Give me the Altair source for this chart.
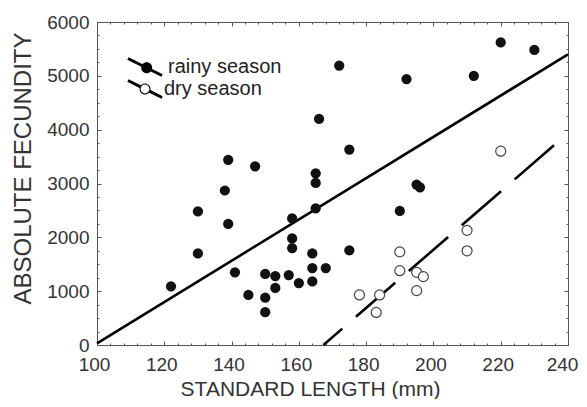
import altair as alt
import pandas as pd

# ---- data ----
rainy_x = [122, 130, 130, 138, 139, 139, 141, 145, 147, 150, 150, 150, 153, 153,
           157, 158, 158, 158, 160, 164, 164, 164, 165, 165, 165, 166, 168, 172,
           175, 175, 190, 192, 195, 196, 212, 220, 230]
rainy_y = [1090, 2480, 1700, 2870, 3440, 2250, 1350, 930, 3320, 1320, 880, 610, 1280, 1060,
           1300, 2350, 1980, 1800, 1150, 1700, 1430, 1180, 2540, 3010, 3190, 4200, 1430, 5190,
           3630, 1760, 2490, 4940, 2980, 2930, 5000, 5620, 5480]
dry_x = [178, 183, 184, 190, 190, 195, 195, 197, 210, 210, 220]
dry_y = [930, 605, 930, 1730, 1380, 1350, 1010, 1270, 2130, 1750, 3600]

rainy_fit_x = [100, 240]
rainy_fit_y = [30, 5400]
dry_fit_x = [167.3, 236.6]
dry_fit_y = [0, 3750]

x_major = [100, 120, 140, 160, 180, 200, 220, 240]
x_minor = list(range(100, 241, 4))
y_major = [0, 1000, 2000, 3000, 4000, 5000, 6000]
y_minor = list(range(0, 6001, 250))
seasons = ["rainy season", "dry season"]

# legend icons (custom symbol paths in the unit box)
rainy_icon = ("M-0.961,-0.579L1.039,0.421L0.961,0.579L-1.039,-0.421Z"
              "M0.424,0.05A0.324,0.324 0 1,1 -0.224,0.05A0.324,0.324 0 1,1 0.424,0.05Z")
dry_icon = ("M-0.961,-0.579L-0.220,-0.209L-0.298,-0.051L-1.039,-0.421Z"
            "M0.298,0.051L1.039,0.421L0.961,0.579L0.220,0.209Z"
            "M0.324,0A0.324,0.324 0 1,1 -0.324,0A0.324,0.324 0 1,1 0.324,0Z"
            "M0.26,0A0.26,0.26 0 1,0 -0.26,0A0.26,0.26 0 1,0 0.26,0Z")

FONT = "Liberation Sans"
TXT = "#333333"
FRAME = "#555555"

rainy = pd.DataFrame({"x": rainy_x, "y": rainy_y, "season": seasons[0]})
dry = pd.DataFrame({"x": dry_x, "y": dry_y, "season": seasons[1]})
rfit = pd.DataFrame({"x": rainy_fit_x, "y": rainy_fit_y})
dfit = pd.DataFrame({"x": dry_fit_x, "y": dry_fit_y})

xs = alt.Scale(domain=[100, 240], nice=False, zero=False)
ys = alt.Scale(domain=[0, 6000], nice=False)


def tick_axis(orient, values, size):
    return alt.Axis(orient=orient, values=values, tickSize=size, offset=-size,
                    domain=False, grid=False, labels=False, ticks=True,
                    tickColor=FRAME, tickWidth=1)


x_main = alt.Axis(orient="bottom", values=x_major, tickSize=4, offset=-4, domain=False,
                  grid=False, tickColor=FRAME, tickWidth=1,
                  labelFont=FONT, labelFontSize=19, labelColor=TXT, labelPadding=10,
                  labelFlush=False, labelOverlap=False, format="d",
                  labelOffset=alt.ExprRef("datum.value == 240 ? -6 : -3"),
                  title="STANDARD LENGTH (mm)", titleFont=FONT, titleFontSize=21,
                  titleFontWeight="normal", titleColor=TXT, titleX=213, titleY=54,
                  titleAlign="center", titleBaseline="alphabetic")
y_main = alt.Axis(orient="left", values=y_major, tickSize=4, offset=-4, domain=False,
                  grid=False, tickColor=FRAME, tickWidth=1,
                  labelFont=FONT, labelFontSize=19, labelColor=TXT, labelPadding=8,
                  labelOverlap=False, format="d",
                  title="ABSOLUTE FECUNDITY", titleFont=FONT, titleFontSize=24,
                  titleFontWeight="normal", titleColor=TXT, titleAngle=270,
                  titleX=-71, titleY=146, titleAlign="center", titleBaseline="alphabetic")

rain_line = alt.Chart(rfit).mark_line(color="black", strokeWidth=2.6).encode(
    x=alt.X("x:Q", scale=xs, axis=x_main),
    y=alt.Y("y:Q", scale=ys, axis=y_main),
)

dry_line = alt.Chart(dfit).mark_line(
    color="black", strokeWidth=2.6, strokeDash=[52, 18], strokeDashOffset=27
).encode(
    x=alt.X("x:Q", scale=xs, axis=tick_axis("top", x_major, 4), title=None),
    y=alt.Y("y:Q", scale=ys, axis=tick_axis("right", y_major, 4), title=None),
)

dry_pts = alt.Chart(dry).mark_point(
    shape="circle", filled=True, fill="white", stroke="#444444", strokeWidth=1.2,
    size=100, opacity=1
).encode(
    x=alt.X("x:Q", scale=xs, axis=tick_axis("bottom", x_minor, 2), title=None),
    y=alt.Y("y:Q", scale=ys, axis=tick_axis("left", y_minor, 2), title=None),
)

rain_pts = alt.Chart(rainy).mark_circle(color="#111111", size=105, opacity=1).encode(
    x=alt.X("x:Q", scale=xs, axis=tick_axis("top", x_minor, 2), title=None),
    y=alt.Y("y:Q", scale=ys, axis=tick_axis("right", y_minor, 2), title=None),
)


def legend_layer(df, name, icon, ly, loff):
    return alt.Chart(df).mark_point(
        filled=True, fill="black", strokeWidth=0, opacity=0
    ).encode(
        x=alt.X("x:Q", scale=xs, axis=None),
        y=alt.Y("y:Q", scale=ys, axis=None),
        shape=alt.Shape(
            "season:N",
            scale=alt.Scale(domain=[name], range=[icon]),
            legend=alt.Legend(
                title=None, orient="none", legendX=31, legendY=ly,
                symbolSize=1156, symbolOpacity=1, symbolFillColor="black",
                symbolStrokeWidth=0, labelFont=FONT, labelFontSize=20,
                labelColor="#222222", labelOffset=loff, padding=0,
            ),
        ),
    )


leg_rain = legend_layer(rainy, seasons[0], rainy_icon, 28, 6)
leg_dry = legend_layer(dry, seasons[1], dry_icon, 50, 2)

chart = alt.layer(rain_line, dry_line, dry_pts, rain_pts, leg_rain, leg_dry).properties(
    width=471, height=323,
    autosize=alt.AutoSizeParams(type="none"),
    padding={"left": 89, "top": 14, "right": 11, "bottom": 54},
).resolve_axis(x="independent", y="independent").resolve_scale(
    shape="independent"
).resolve_legend(shape="independent").configure_view(
    stroke=FRAME, strokeWidth=1
)

chart.save("out.html", embed_options={"renderer": "svg", "actions": False})
